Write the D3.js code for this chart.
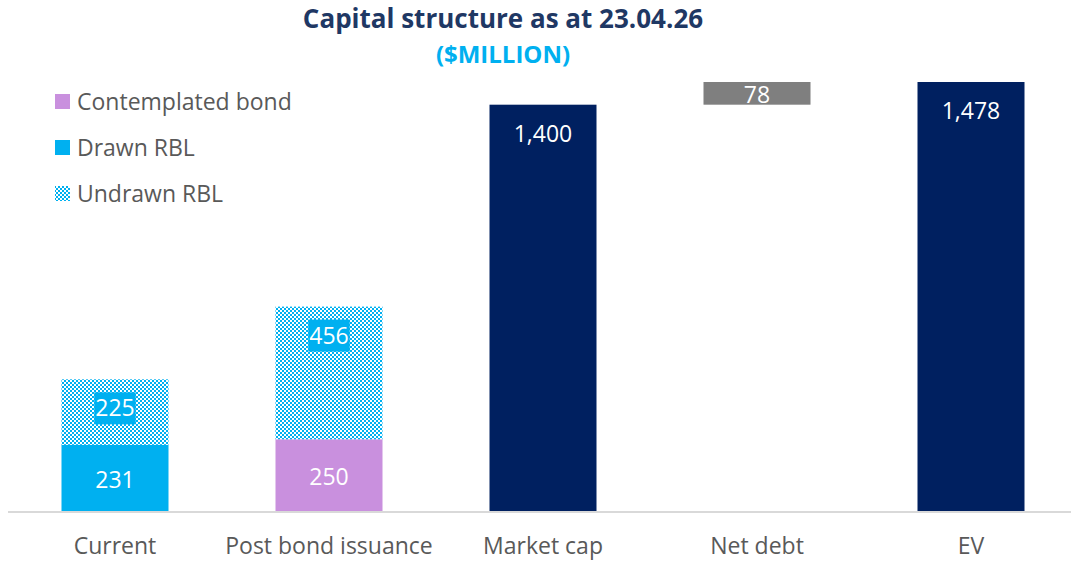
<!DOCTYPE html>
<html>
<head>
<meta charset="utf-8">
<script src="https://cdn.jsdelivr.net/npm/d3@7"></script>
<style>
  html, body { margin: 0; padding: 0; background: #ffffff; }
  svg { display: block; }
</style>
</head>
<body>
<svg id="chart" width="1071" height="562"></svg>
<script>
// Capital structure ($ million)
const categories = ["Current", "Post bond issuance", "Market cap", "Net debt", "EV"];
const contemplatedBond = [0, 250, 0, 0, 0];
const drawnRBL = [231, 0, 0, 0, 0];
const undrawnRBL = [225, 456, 0, 0, 0];
const equityValue = [0, 0, 1400, 0, 1478];
const netDebt = [0, 0, 0, 78, 0];
const netDebtBase = [0, 0, 0, 1400, 0];
const legendLabels = ["Contemplated bond", "Drawn RBL", "Undrawn RBL"];

const FONT = "'Open Sans', sans-serif";
const C = {
  navy: "#002060",
  blue: "#00b0f0",
  purple: "#c990de",
  grey: "#7f7f7f",
  title: "#1f3864",
  text: "#595959",
  axis: "#d9d9d9"
};

const svg = d3.select("#chart");
const defs = svg.append("defs");

// Small checkerboard fill for undrawn facility
const pat = defs.append("pattern")
  .attr("id", "checker")
  .attr("patternUnits", "userSpaceOnUse")
  .attr("width", 4).attr("height", 4);
pat.append("rect").attr("width", 4).attr("height", 4).attr("fill", "#ffffff");
pat.append("rect").attr("x", 0).attr("y", 0).attr("width", 2).attr("height", 2).attr("fill", C.blue);
pat.append("rect").attr("x", 2).attr("y", 2).attr("width", 2).attr("height", 2).attr("fill", C.blue);

const x = d3.scaleBand()
  .domain(categories)
  .range([8, 1078])
  .paddingInner(0.5)
  .paddingOuter(0.25);

const y = d3.scaleLinear()
  .domain([0, 1478])
  .range([512, 82]);

const fmt = d3.format(",");

// Build segments for each category
const segments = [];
categories.forEach((c, i) => {
  let base = 0;
  if (drawnRBL[i]) { segments.push({c, v: drawnRBL[i], y0: base, y1: base + drawnRBL[i], fill: C.blue, mode: "center", box: null}); base += drawnRBL[i]; }
  if (contemplatedBond[i]) { segments.push({c, v: contemplatedBond[i], y0: base, y1: base + contemplatedBond[i], fill: C.purple, mode: "center", box: null}); base += contemplatedBond[i]; }
  if (undrawnRBL[i]) { segments.push({c, v: undrawnRBL[i], y0: base, y1: base + undrawnRBL[i], fill: "url(#checker)", mode: "top", box: C.blue}); base += undrawnRBL[i]; }
  if (equityValue[i]) { segments.push({c, v: equityValue[i], y0: 0, y1: equityValue[i], fill: C.navy, mode: "top", box: null}); }
  if (netDebt[i]) { segments.push({c, v: netDebt[i], y0: netDebtBase[i], y1: netDebtBase[i] + netDebt[i], fill: C.grey, mode: "center", box: null}); }
});

const bars = svg.append("g");
bars.selectAll("rect")
  .data(segments)
  .join("rect")
  .attr("x", d => x(d.c))
  .attr("width", x.bandwidth())
  .attr("y", d => y(d.y1))
  .attr("height", d => y(d.y0) - y(d.y1))
  .attr("fill", d => d.fill);

// Value labels (baseline positions)
const labels = svg.append("g")
  .attr("font-family", FONT)
  .attr("font-size", 23);

segments.forEach(d => {
  const cx = x(d.c) + x.bandwidth() / 2;
  const base = d.mode === "center" ? (y(d.y0) + y(d.y1)) / 2 + 9.5 : y(d.y1) + 37;
  const g = labels.append("g");
  const t = g.append("text")
    .attr("x", cx)
    .attr("y", base)
    .attr("text-anchor", "middle")
    .attr("fill", "#ffffff")
    .text(fmt(d.v));
  if (d.box) {
    const bb = t.node().getBBox();
    g.insert("rect", "text")
      .attr("x", bb.x - 1)
      .attr("y", base - 24)
      .attr("width", bb.width + 2)
      .attr("height", 32)
      .attr("fill", d.box);
  }
});

// Baseline
svg.append("line")
  .attr("x1", 8).attr("x2", 1071)
  .attr("y1", y(0)).attr("y2", y(0))
  .attr("stroke", C.axis)
  .attr("stroke-width", 2);

// Category axis
const xAxis = svg.append("g")
  .attr("transform", `translate(0,${y(0)})`)
  .call(d3.axisBottom(x).tickSize(0).tickPadding(0));
xAxis.select(".domain").remove();
xAxis.selectAll("text")
  .attr("dy", null)
  .attr("y", 42)
  .attr("font-family", FONT)
  .attr("font-size", 23)
  .attr("fill", C.text);

// Title
svg.append("text")
  .attr("x", 503).attr("y", 28)
  .attr("text-anchor", "middle")
  .attr("font-family", FONT)
  .attr("font-weight", "bold")
  .attr("font-size", 26)
  .attr("fill", C.title)
  .text("Capital structure as at 23.04.26");
svg.append("text")
  .attr("x", 503).attr("y", 63)
  .attr("text-anchor", "middle")
  .attr("font-family", FONT)
  .attr("font-weight", "bold")
  .attr("font-size", 24)
  .attr("fill", C.blue)
  .text("($MILLION)");

// Legend
const legendFills = [C.purple, C.blue, "url(#checker)"];
const legend = svg.append("g");
legendLabels.forEach((name, i) => {
  const cy = 101.5 + i * 46;
  legend.append("rect")
    .attr("x", 55).attr("y", cy - 7.5)
    .attr("width", 15).attr("height", 15)
    .attr("fill", legendFills[i]);
  legend.append("text")
    .attr("x", 77).attr("y", cy + 8.5)
    .attr("font-family", FONT)
    .attr("font-size", 23)
    .attr("fill", C.text)
    .text(name);
});
</script>
</body>
</html>
